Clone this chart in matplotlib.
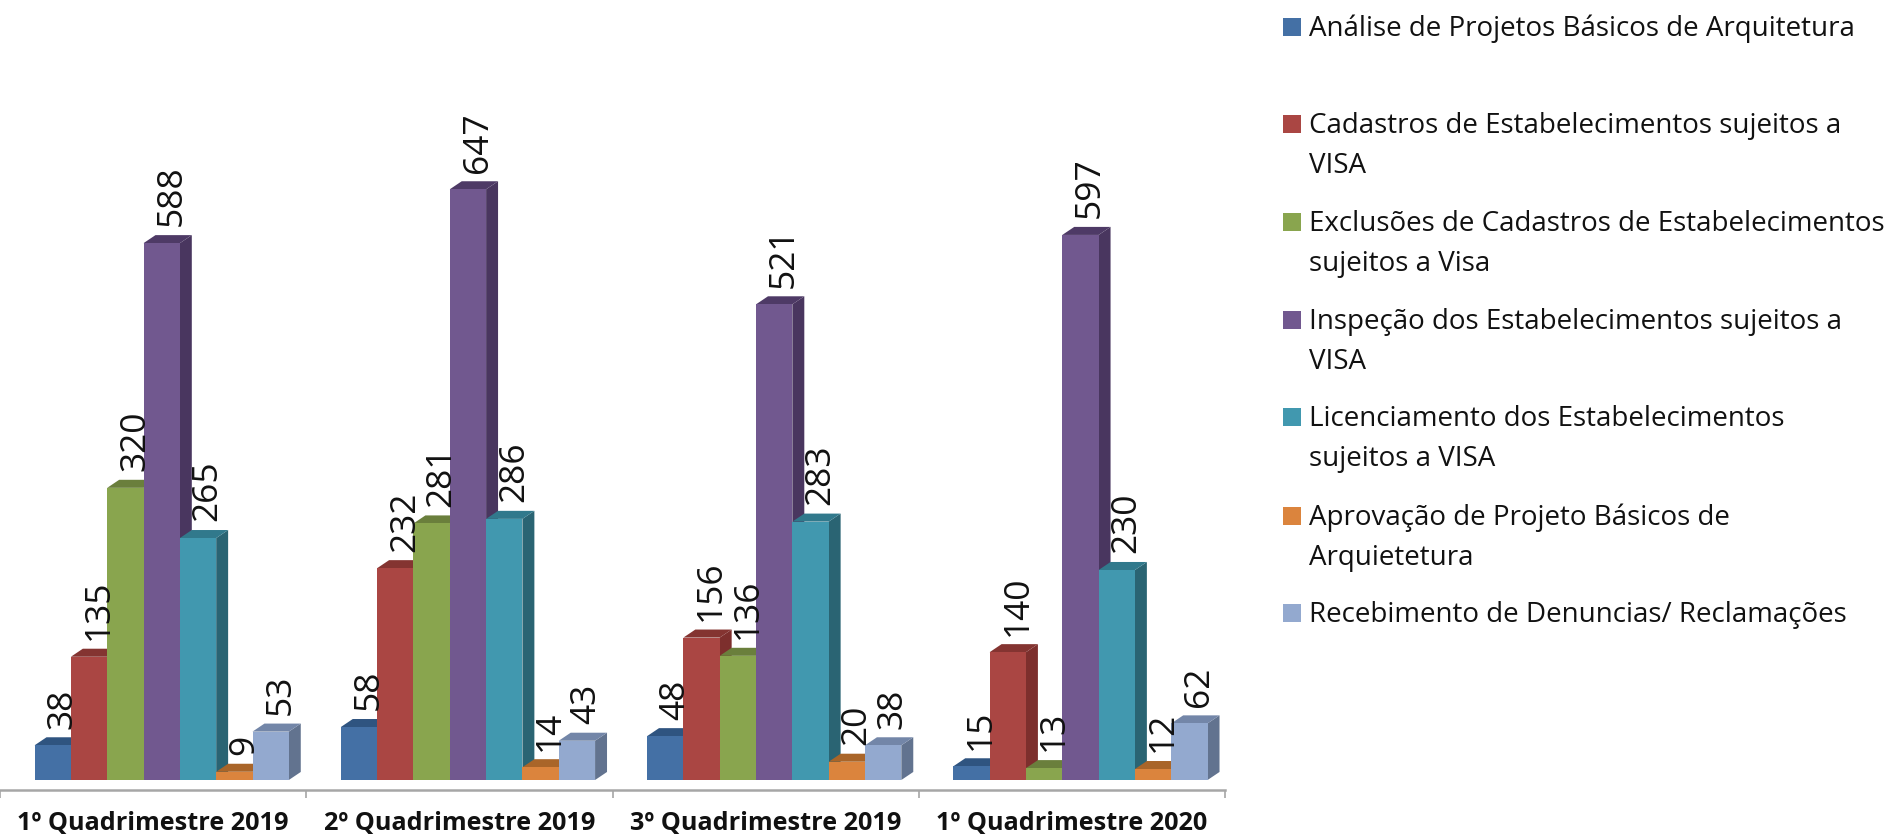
import matplotlib
matplotlib.use("Agg")
import matplotlib.pyplot as plt
from matplotlib.patches import Polygon, Rectangle

# -------------------------------------------------------
# Data
# -------------------------------------------------------
categories = ["1º Quadrimestre 2019", "2º Quadrimestre 2019",
              "3º Quadrimestre 2019", "1º Quadrimestre 2020"]

analise = [38, 58, 48, 15]
cadastros = [135, 232, 156, 140]
exclusoes = [320, 281, 136, 13]
inspecao = [588, 647, 521, 597]
licenciamento = [265, 286, 283, 230]
aprovacao = [9, 14, 20, 12]
denuncias = [53, 43, 38, 62]

series = [analise, cadastros, exclusoes, inspecao, licenciamento, aprovacao, denuncias]

legend_labels = ["Análise de Projetos Básicos de Arquitetura",
                 "Cadastros de Estabelecimentos sujeitos a\nVISA",
                 "Exclusões de Cadastros de Estabelecimentos\nsujeitos a Visa",
                 "Inspeção dos Estabelecimentos sujeitos a\nVISA",
                 "Licenciamento dos Estabelecimentos\nsujeitos a VISA",
                 "Aprovação de Projeto Básicos de\nArquietetura",
                 "Recebimento de Denuncias/ Reclamações"]

front_colors = ["#4470A5", "#AA4643", "#89A54E", "#71588F", "#4198AF", "#DB843D", "#93A9CF"]
top_colors = ["#2F5480", "#843431", "#6A7F3C", "#4E3A66", "#31798C", "#A96529", "#7386A8"]
side_colors = ["#305685", "#7D2F2D", "#5E7135", "#49365F", "#2A6473", "#94581F", "#62738F"]

W, H = 1891, 836
AXIS_RIGHT = 1225
AXIS_Y = 790
PX_PER_UNIT = 0.913
BAR_W = 0.1186
GROUP_SHIFT = 0.028
DEPTH_X = 0.039
DEPTH_Y = 8.8

fig = plt.figure(figsize=(W / 100, H / 100), dpi=100, facecolor="white")
ax = fig.add_axes([0, (H - AXIS_Y) / H, AXIS_RIGHT / W, AXIS_Y / H])
ax.set_xlim(0, 4)
ax.set_ylim(-10 / PX_PER_UNIT, 780 / PX_PER_UNIT)
ax.patch.set_visible(False)

for g in range(len(categories)):
    left = g + 0.5 + GROUP_SHIFT - 3.5 * BAR_W
    for s, vals in enumerate(series):
        v = vals[g]
        x0 = left + s * BAR_W
        x1 = x0 + BAR_W
        z = 3 + s
        # bar body first, then side and top so the next bar covers them
        ax.add_patch(Polygon([(x1, 0), (x1 + DEPTH_X, DEPTH_Y), (x1 + DEPTH_X, v + DEPTH_Y), (x1, v)],
                             facecolor=side_colors[s], edgecolor="none", zorder=z))
        ax.add_patch(Polygon([(x0, v), (x0 + DEPTH_X, v + DEPTH_Y), (x1 + DEPTH_X, v + DEPTH_Y), (x1, v)],
                             facecolor=top_colors[s], edgecolor="none", zorder=z))
        ax.bar(x0, v, BAR_W, align="edge", color=front_colors[s], zorder=z)
        ax.annotate(str(v), (x0 + BAR_W / 2, v), xytext=(7, 12), textcoords="offset points",
                    rotation=90, ha="center", va="bottom", fontsize=25.5, color="#111111",
                    family="Open Sans", zorder=20, annotation_clip=False)

for name in ["top", "left", "right"]:
    ax.spines[name].set_visible(False)
ax.spines["bottom"].set_color("#A6A6A6")
ax.spines["bottom"].set_linewidth(1.8)
ax.set_yticks([])
ax.set_xticks(range(5))
ax.set_xticklabels([])
ax.tick_params(axis="x", length=6, width=1.2, color="#A6A6A6")

for g, cat in enumerate(categories):
    fig.text((g + 0.5) * AXIS_RIGHT / 4 / W, 1 - 823 / H, cat, ha="center", va="center",
             fontsize=18.2, fontweight="bold", family="Open Sans", color="#111111")

# legend, placed by hand because the row spacing is uneven
legend_y = [27, 124, 222, 320, 417, 516, 613]
LINE_GAP = 40
for lab, col, y in zip(legend_labels, front_colors, legend_y):
    fig.add_artist(Rectangle((1283 / W, 1 - (y + 9) / H), 18 / W, 18 / H, transform=fig.transFigure,
                             facecolor=col, edgecolor="none"))
    for i, line in enumerate(lab.split("\n")):
        fig.text(1309 / W, 1 - (y + 2 + i * LINE_GAP) / H, line, ha="left", va="center",
                 fontsize=20, family="Open Sans", color="#111111")

plt.savefig("out.png", dpi=100)
plt.close()
